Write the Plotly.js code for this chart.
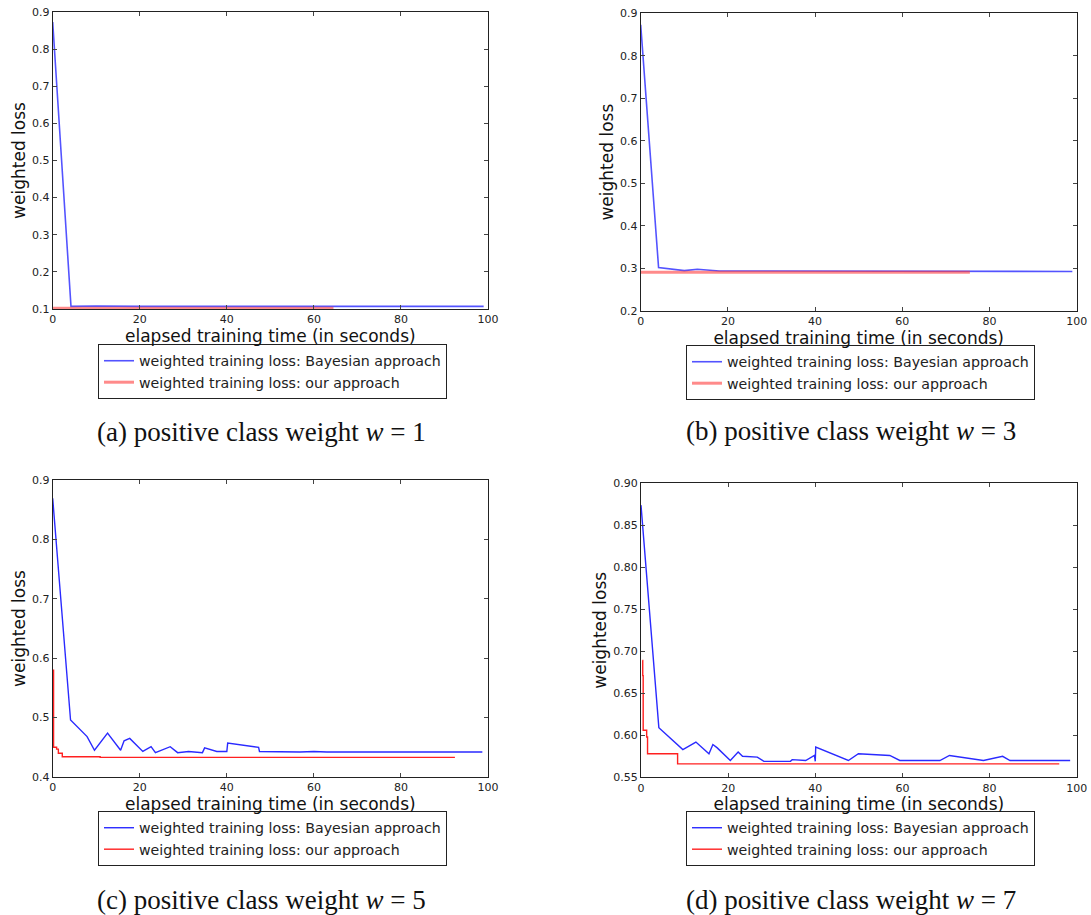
<!DOCTYPE html>
<html>
<head>
<meta charset="utf-8">
<script src="https://cdn.plot.ly/plotly-3.0.1.min.js"></script>
<style>
  html, body { margin: 0; padding: 0; background: #fff; }
  #chart { width: 1091px; height: 915px; }
</style>
</head>
<body>
<div id="chart"></div>
<script>
// ---- data ----
// (a) w = 1
const timeBayesA = [0, 4.2, 10, 20, 99];
const lossBayesA = [0.873, 0.107, 0.108, 0.107, 0.107];
const timeOursA  = [0, 64.5];
const lossOursA  = [0.102, 0.102];
// (b) w = 3
const timeBayesB = [0, 4.1, 10, 13, 18, 99];
const lossBayesB = [0.873, 0.302, 0.295, 0.298, 0.294, 0.293];
const timeOursB  = [0, 75.5];
const lossOursB  = [0.291, 0.291];
// (c) w = 5
const timeBayesC = [0, 4.1, 7.9, 9.6, 12.6, 15.6, 16.4, 17.7, 20.7, 22.6, 23.6, 27.0, 28.7, 31.2, 34.4, 34.9, 37.7, 40.0, 40.2, 47.3, 47.5, 56.8, 60, 63, 98.7];
const lossBayesC = [0.869, 0.496, 0.468, 0.445, 0.474, 0.445, 0.461, 0.465, 0.443, 0.451, 0.441, 0.451, 0.441, 0.443, 0.441, 0.449, 0.443, 0.443, 0.457, 0.450, 0.443, 0.442, 0.443, 0.442, 0.442];
const timeOursC  = [0, 0.2, 0.9, 1.3, 2.2, 10.9, 92.4];
const lossOursC  = [0.58, 0.450, 0.447, 0.440, 0.434, 0.433, 0.433];
// (d) w = 7
const timeBayesD = [0, 4.1, 9.6, 12.6, 15.6, 16.5, 17.5, 20.5, 22.3, 23.3, 26.7, 28.2, 34.3, 34.7, 37.8, 39.8, 40.0, 40.1, 47.6, 49.9, 57.1, 59.4, 68.6, 70.8, 78.6, 83.0, 84.7, 98.5];
const lossBayesD = [0.874, 0.609, 0.583, 0.592, 0.578, 0.589, 0.585, 0.570, 0.580, 0.575, 0.574, 0.569, 0.569, 0.571, 0.570, 0.576, 0.569, 0.586, 0.570, 0.578, 0.576, 0.570, 0.570, 0.576, 0.570, 0.575, 0.570, 0.570];
const timeOursD  = [0.3, 0.4, 0.5, 1.2, 1.3, 1.5, 8.3, 8.4, 96.0];
const lossOursD  = [0.689, 0.671, 0.606, 0.606, 0.598, 0.578, 0.578, 0.566, 0.566];

const yRanges = [[0.1, 0.9], [0.2, 0.9], [0.4, 0.9], [0.55, 0.90]];
const yDticks = [0.1, 0.1, 0.1, 0.05];
const yFormats = ['.1f', '.1f', '.1f', '.2f'];
const captions = ['(a) positive class weight <i>w</i> = 1', '(b) positive class weight <i>w</i> = 3',
                  '(c) positive class weight <i>w</i> = 5', '(d) positive class weight <i>w</i> = 7'];
const nameBayes = 'weighted training loss: Bayesian approach';
const nameOurs  = 'weighted training loss: our approach';
const xTitle = 'elapsed training time (in seconds)';
const yTitle = 'weighted loss';

// ---- layout geometry (pixels in 1091x915 page) ----
const W = 1091, H = 915;
const boxes = [ // [left, right, top, bottom]
  [52.7, 488, 12, 309],
  [640.7, 1076.7, 13.3, 311],
  [52.7, 488, 480, 777],
  [641, 1076.7, 483.3, 777.3]
];
const legendPos = [[98, 344], [686, 345], [98, 811], [686, 811]];
const captionPos = [[261, 432], [850.5, 431], [261.5, 900], [850.5, 900]];

const series = [
  [timeBayesA, lossBayesA, timeOursA, lossOursA],
  [timeBayesB, lossBayesB, timeOursB, lossOursB],
  [timeBayesC, lossBayesC, timeOursC, lossOursC],
  [timeBayesD, lossBayesD, timeOursD, lossOursD]
];
const faded = [true, true, false, false];

const traces = [];
const layout = {
  width: W, height: H,
  margin: {l: 0, r: 0, t: 0, b: 0},
  paper_bgcolor: '#fff', plot_bgcolor: '#fff',
  font: {family: 'DejaVu Sans, sans-serif', color: '#222'},
  showlegend: true,
  annotations: []
};

series.forEach((s, i) => {
  const n = i + 1;
  const xa = n === 1 ? 'x' : 'x' + n;
  const ya = n === 1 ? 'y' : 'y' + n;
  const lg = n === 1 ? 'legend' : 'legend' + n;
  const blue = faded[i] ? 'rgba(40,40,255,0.8)' : '#2a2aff';
  const red = faded[i] ? 'rgba(255,60,60,0.6)' : '#ff2020';
  traces.push({x: s[0], y: s[1], xaxis: xa, yaxis: ya, legend: lg, type: 'scatter', mode: 'lines',
               name: nameBayes, line: {color: blue, width: faded[i] ? 1.6 : 1.4}});
  traces.push({x: s[2], y: s[3], xaxis: xa, yaxis: ya, legend: lg, type: 'scatter', mode: 'lines',
               name: nameOurs, line: {color: red, width: faded[i] ? 3 : 1.4, shape: i >= 2 ? 'hv' : 'linear'}});
  const b = boxes[i];
  const axCommon = {
    showline: true, linecolor: '#222', linewidth: 1, mirror: 'allticks',
    ticks: 'inside', ticklen: 4, tickcolor: '#444', tickwidth: 1,
    showgrid: false, zeroline: false,
    tickfont: {size: 11, color: '#222', family: 'DejaVu Sans, sans-serif'}
  };
  layout['xaxis' + (n === 1 ? '' : n)] = Object.assign({}, axCommon, {
    domain: [b[0] / W, b[1] / W], anchor: ya, range: [0, 100], dtick: 20, tick0: 0,
    title: {text: xTitle, font: {size: 17, color: '#111'}, standoff: 3}
  });
  layout['yaxis' + (n === 1 ? '' : n)] = Object.assign({}, axCommon, {
    domain: [1 - b[3] / H, 1 - b[2] / H], anchor: xa, range: yRanges[i], dtick: yDticks[i], tick0: 0,
    tickformat: yFormats[i],
    title: {text: yTitle, font: {size: 17, color: '#111'}, standoff: 2}
  });
  layout[lg] = {
    x: legendPos[i][0] / W, y: 1 - legendPos[i][1] / H, xanchor: 'left', yanchor: 'top',
    bordercolor: '#222', borderwidth: 1, bgcolor: '#fff',
    font: {size: 14.2, color: '#222', family: 'DejaVu Sans, sans-serif'},
    tracegroupgap: 0
  };
  layout.annotations.push({
    text: captions[i], xref: 'paper', yref: 'paper',
    x: captionPos[i][0] / W, y: 1 - captionPos[i][1] / H, xanchor: 'center', yanchor: 'middle',
    showarrow: false, font: {family: 'Liberation Serif, serif', size: 27, color: '#111'}
  });
});

Plotly.newPlot('chart', traces, layout, {staticPlot: true, displayModeBar: false});
</script>
</body>
</html>
